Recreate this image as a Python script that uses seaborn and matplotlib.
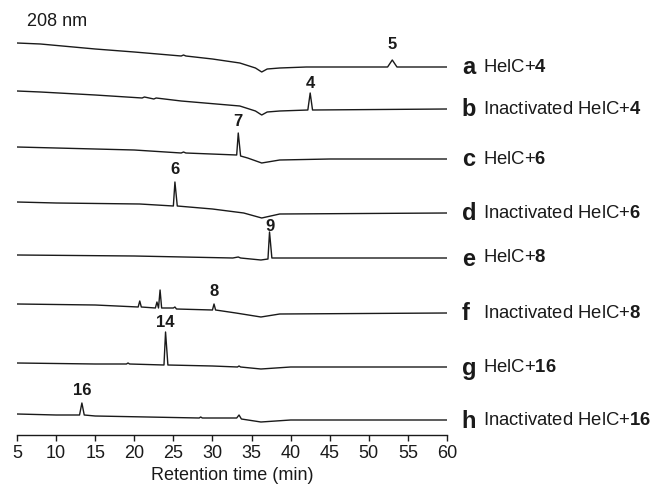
import seaborn as sns
import matplotlib.pyplot as plt
import pandas as pd

# retention time (min) and signal (relative, baseline at t=5 is 0) for each trace
t_a = [5, 8, 15, 20, 26, 26.3, 26.6, 30, 33.5, 35.5, 36.3, 37, 38.6, 42, 52.4, 53, 53.6, 60]
s_a = [0, -1, -6, -9, -13, -12, -13, -16, -20, -25, -29, -26, -25, -24, -24, -17, -24, -24]

t_b = [5, 8, 15, 21, 21.3, 22.5, 22.8, 26, 33.5, 35.5, 36.3, 37, 38.6, 42.2, 42.5, 42.8, 60]
s_b = [0, -1, -4, -7, -6, -8, -7, -10, -15, -20, -24, -21, -20, -19, -2, -19, -18]

t_c = [5, 10, 20, 26, 26.3, 26.6, 33.1, 33.3, 33.6, 34.5, 36.3, 38.6, 45, 60]
s_c = [0, -1, -3, -6, -5, -6, -8, 14, -9, -11, -16, -13, -12, -12]

t_d = [5, 10, 20.7, 25.0, 25.2, 25.5, 30, 34, 36.3, 38.6, 60]
s_d = [0, -1, -2, -4, 20, -4, -7, -11, -16, -12, -11]

t_e = [5, 20, 32.6, 33.3, 33.6, 36.2, 37.1, 37.3, 37.6, 40, 60]
s_e = [0, -1, -3, -2, -3, -5, -4, 23, -3, -3, -3]

t_f = [5, 15, 20.5, 20.7, 20.9, 22.7, 22.9, 23.1, 23.3, 23.5, 25, 25.2, 25.4, 30, 30.2, 30.4, 33, 36.2, 38.6, 60]
s_f = [0, -1, -3, 3, -3, -4, 2, -4, 14, -4, -4, -3, -5, -6, 0, -6, -9, -13, -10, -9]

t_g = [5, 15, 19, 19.2, 19.4, 23.8, 24.0, 24.3, 30, 33.2, 33.4, 33.6, 36.2, 40, 60]
s_g = [0, -1, -1, 0, -1, -2, 31, -2, -3, -4, -3, -4, -6, -4, -4]

t_h = [5, 10, 13.0, 13.3, 13.6, 15, 28.3, 28.5, 28.7, 33.1, 33.4, 33.7, 36.2, 40, 60]
s_h = [0, -1, -1, 11, -1, -2, -4, -3, -4, -4, -1, -5, -8, -6, -6]

times = [t_a, t_b, t_c, t_d, t_e, t_f, t_g, t_h]
signals = [s_a, s_b, s_c, s_d, s_e, s_f, s_g, s_h]
offsets = [392, 344, 288, 233, 180, 131, 72, 21]

letters = ["a", "b", "c", "d", "e", "f", "g", "h"]
samples = ["HelC+", "Inactivated HelC+", "HelC+", "Inactivated HelC+",
           "HelC+", "Inactivated HelC+", "HelC+", "Inactivated HelC+"]
compounds = ["4", "4", "6", "6", "8", "8", "16", "16"]

peak_labels = ["5", "4", "7", "6", "9", "8", "14", "16"]
peak_times = [53, 42.5, 33.3, 25.2, 37.3, 30.2, 24.0, 13.3]
label_gap = [8, 3.5, 5, 5.5, 0.5, 5.5, 3.5, 5.5]  # points above peak top

sns.set_style("white")
plt.rcParams["font.family"] = ["Liberation Sans", "DejaVu Sans"]
plt.rcParams["mathtext.fontset"] = "custom"
plt.rcParams["mathtext.rm"] = "Liberation Sans"
plt.rcParams["mathtext.bf"] = "Liberation Sans:bold"

ink = "#1a1a1a"
fig = plt.figure(figsize=(6.56, 4.86), dpi=100)
ax = fig.add_axes([17 / 656, 51 / 486, 430 / 656, 435 / 486])

for i in range(len(times)):
    df = pd.DataFrame({"t": times[i], "y": [v + offsets[i] for v in signals[i]]})
    sns.lineplot(data=df, x="t", y="y", ax=ax, color=ink, linewidth=1.0,
                 estimator=None, sort=False)
    # peak label above the peak top
    top = df.loc[df["t"] == peak_times[i], "y"].iloc[0]
    ax.annotate(peak_labels[i], (peak_times[i], top), xytext=(0, label_gap[i]),
                textcoords="offset points", ha="center", va="baseline",
                fontsize=12, fontweight="bold", color=ink)
    end = df["y"].iloc[-1]
    ax.text(61.9, end - 1, letters[i], fontsize=17, fontweight="bold", va="center", ha="left",
            color=ink, clip_on=False)
    ax.text(64.6, end, samples[i] + r"$\mathbf{" + compounds[i] + "}$", fontsize=13.3,
            va="center", ha="left", color=ink, clip_on=False)

ax.text(6.3, 413, "208 nm", fontsize=13, va="center", ha="left", color=ink)

ax.set_xlim(5, 60)
ax.set_ylim(0, 435)
ax.set_xticks(range(5, 61, 5))
ax.set_yticks([])
ax.tick_params(axis="x", direction="out", length=4, width=1, labelsize=13, pad=3,
               bottom=True, colors=ink)
for side in ["top", "right", "left"]:
    ax.spines[side].set_visible(False)
ax.spines["bottom"].set_color(ink)
ax.spines["bottom"].set_linewidth(1)
ax.set_xlabel("Retention time (min)", fontsize=13, labelpad=4, color=ink)
ax.set_ylabel("")

fig.savefig("out.png", dpi=100)
